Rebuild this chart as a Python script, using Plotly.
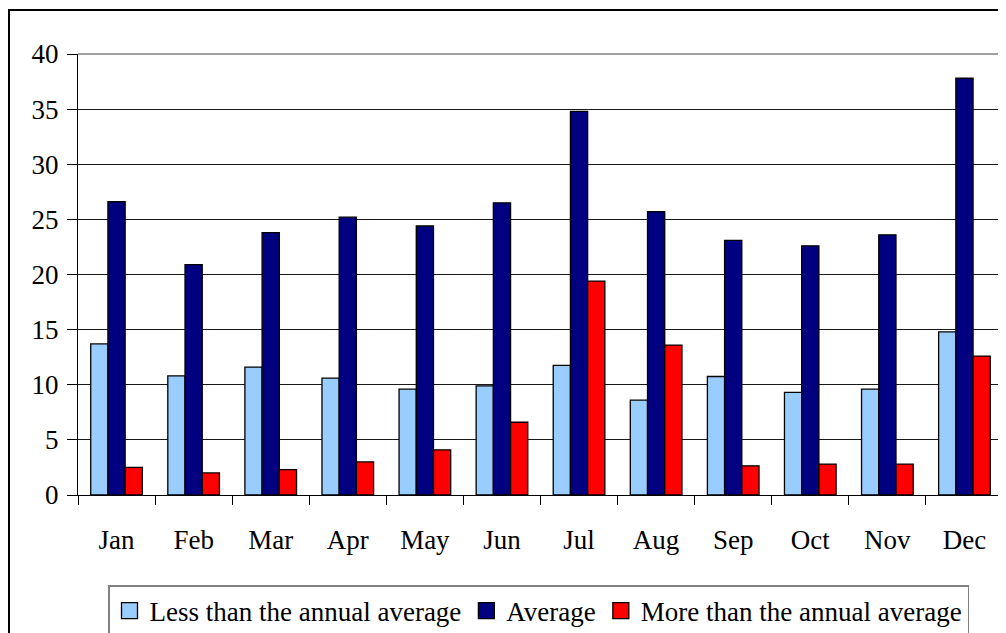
import plotly.graph_objects as go

months = ["Jan", "Feb", "Mar", "Apr", "May", "Jun", "Jul", "Aug", "Sep", "Oct", "Nov", "Dec"]
less_than_avg = [13.7, 10.8, 11.6, 10.6, 9.6, 9.9, 11.75, 8.6, 10.75, 9.3, 9.6, 14.8]
average = [26.6, 20.9, 23.8, 25.2, 24.4, 26.5, 34.8, 25.7, 23.1, 22.6, 23.6, 37.8]
more_than_avg = [2.5, 2.0, 2.3, 3.0, 4.1, 6.6, 19.4, 13.6, 2.65, 2.8, 2.8, 12.6]

names = ["Less than the annual average", "Average", "More than the annual average"]
colors = ["#99CCFF", "#000080", "#FF0000"]
series = [less_than_avg, average, more_than_avg]

fig = go.Figure()
for name, vals, col in zip(names, series, colors):
    fig.add_trace(go.Bar(
        x=months, y=vals, name=name, showlegend=False,
        marker=dict(color=col, line=dict(color="black", width=1.3)),
    ))
# legend entries with larger square swatches
for name, col in zip(names, colors):
    fig.add_trace(go.Scatter(
        x=[None], y=[None], mode="markers", name=name,
        marker=dict(symbol="square", size=16, color=col, line=dict(color="black", width=1.3)),
    ))

# page body has an 8px margin, so the figure is a bit smaller than the window
W, H = 998, 625
L, R, T, B = 70, 3, 46, 138
pw = W - L - R
ph = H - T - B

fam = "Liberation Serif, Times New Roman, serif"
font = dict(family=fam, size=27, color="black")

fig.update_layout(
    width=W, height=H,
    margin=dict(l=L, r=R, t=T, b=B, pad=0, autoexpand=False),
    paper_bgcolor="white", plot_bgcolor="white",
    barmode="group", bargap=0.33, bargroupgap=0,
    font=font,
    showlegend=True,
    legend=dict(
        orientation="h",
        xref="container", x=530.5 / W, xanchor="center",
        yref="container", y=1 - 577 / H, yanchor="top",
        bordercolor="#808080", borderwidth=1.5, bgcolor="white",
        font=dict(family=fam, size=27, color="black"),
        itemsizing="trace", tracegroupgap=0, itemwidth=30,
    ),
    xaxis=dict(
        showgrid=False, showline=True, linecolor="black", linewidth=1,
        ticks="outside", tickson="boundaries", ticklen=9, tickcolor="black", tickwidth=1,
        ticklabelstandoff=21, tickfont=font, automargin=False,
    ),
    yaxis=dict(
        range=[0, 40], dtick=5, tick0=0,
        showgrid=True, gridcolor="#1a1a1a", gridwidth=1,
        showline=True, linecolor="black", linewidth=1,
        ticks="outside", ticklen=10, tickcolor="black", tickwidth=1,
        ticklabelstandoff=3, tickfont=font, zeroline=False, automargin=False,
    ),
    shapes=[
        dict(type="line", xref="paper", yref="paper", x0=0, x1=1, y0=1, y1=1,
             line=dict(color="#808080", width=1.5), layer="above"),
        dict(type="line", xref="paper", yref="paper", x0=1, x1=1, y0=0, y1=1,
             line=dict(color="#808080", width=1.5), layer="above"),
        dict(type="rect", xref="paper", yref="paper",
             x0=(1 - L) / pw, x1=1.2, y0=-0.5, y1=(H - B - 2) / ph,
             line=dict(color="black", width=2), fillcolor="rgba(0,0,0,0)", layer="above"),
    ],
)

fig.write_html("out.html")
